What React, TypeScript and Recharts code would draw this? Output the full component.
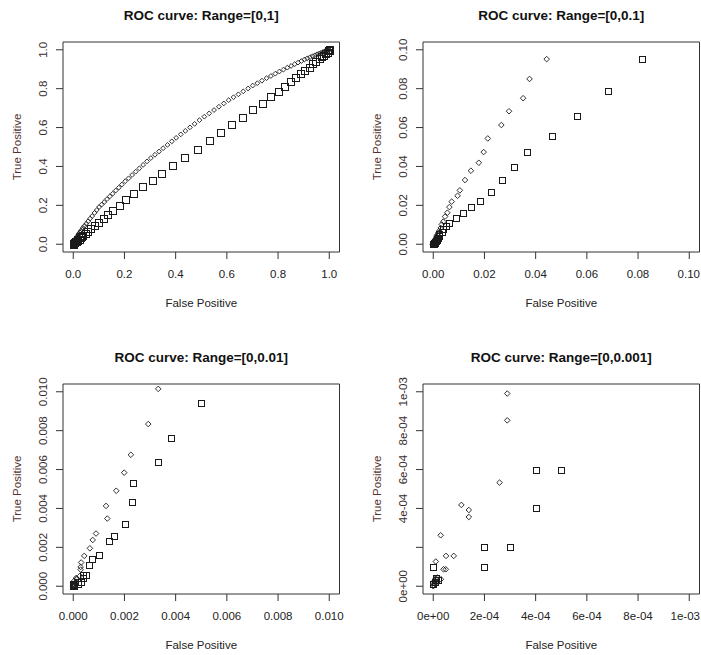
import React from 'react';
import { ScatterChart, Scatter, XAxis, YAxis, ReferenceArea } from 'recharts';

// ---- ROC points (false positive rate, true positive rate) ----
// Model A, drawn with hollow squares
const squareFP = [
  0, 0.000005, 0.00001, 0.00001, 0.00002, 0, 0.0002, 0.0002, 0.0003, 0.0004, 0.0004, 0.0005,
  0.00061, 0.00073, 0.001, 0.00141, 0.00161, 0.00202, 0.0023, 0.00232, 0.00331, 0.00382, 0.005,
  0.0061, 0.0089, 0.0117, 0.0147, 0.0181, 0.0225, 0.0268, 0.0314, 0.0368, 0.0463, 0.0561, 0.0684, 0.0816,
  0.098, 0.117, 0.133, 0.155, 0.179, 0.205, 0.237, 0.27, 0.309, 0.345, 0.388, 0.434, 0.484, 0.531, 0.574,
  0.62, 0.661, 0.701, 0.738, 0.772, 0.8, 0.826, 0.849, 0.869, 0.888, 0.905, 0.921, 0.935, 0.948, 0.96,
  0.97, 0.979, 0.986, 0.992, 0.996, 0.999, 1,
];
const squareTP = [
  0.00001, 0.00002, 0.00003, 0.00004, 0.00003, 0.0001, 0.0001, 0.0002, 0.0002, 0.0004, 0.0006, 0.0006,
  0.00111, 0.00139, 0.00161, 0.00231, 0.00259, 0.0032, 0.00432, 0.00529, 0.0064, 0.00762, 0.00943,
  0.0111, 0.0137, 0.0159, 0.019, 0.0222, 0.0268, 0.0328, 0.0398, 0.0473, 0.0556, 0.0658, 0.0788, 0.0952,
  0.113, 0.134, 0.152, 0.173, 0.201, 0.23, 0.261, 0.295, 0.33, 0.366, 0.405, 0.446, 0.486, 0.532, 0.574,
  0.617, 0.653, 0.692, 0.726, 0.76, 0.788, 0.813, 0.838, 0.86, 0.878, 0.895, 0.911, 0.927, 0.941, 0.953,
  0.963, 0.973, 0.981, 0.988, 0.994, 0.998, 1,
];

// Model B, drawn with hollow diamonds
const diamondFP = [
  0, 0.000002, 0.000004, 0.000006, 0.000008, 0.00001, 0.000012, 0.000014, 0.000016, 0.00003,
  0.00004, 0.000049, 0.00001, 0.000029,
  0.00005, 0.00008, 0.00011, 0.000139, 0.000139, 0.000259, 0.000289, 0.000289,
  0.00031, 0.00043, 0.00065, 0.00076, 0.00089, 0.00133, 0.00128, 0.00168, 0.00199, 0.00225, 0.00293, 0.00332,
  0.0039, 0.0046, 0.0055, 0.0063, 0.0072, 0.0095, 0.0104, 0.0124, 0.0147, 0.0178, 0.0197, 0.0213,
  0.0266, 0.0296, 0.0351, 0.0376, 0.0443,
  0.051, 0.058, 0.066, 0.074, 0.083, 0.092, 0.101, 0.111, 0.121, 0.132, 0.143, 0.154, 0.166, 0.178,
  0.19, 0.203, 0.216, 0.23, 0.244, 0.258, 0.273, 0.288, 0.303, 0.319, 0.335, 0.351, 0.368, 0.385,
  0.402, 0.42, 0.438, 0.456, 0.474, 0.493, 0.512, 0.531, 0.55, 0.569, 0.588, 0.607, 0.626, 0.645,
  0.664, 0.683, 0.701, 0.719, 0.737, 0.755, 0.772, 0.789, 0.805, 0.821, 0.836, 0.851, 0.865, 0.878,
  0.891, 0.903, 0.914, 0.925, 0.935, 0.944, 0.953, 0.961, 0.968, 0.975, 0.981, 0.986, 0.991, 0.995,
  0.998, 1,
];
const diamondTP = [
  0, 0.000005, 0.000016, 0.000028, 0.00001, 0.00004, 0.000022, 0.000032, 0.000045, 0.000036,
  0.000087, 0.000087, 0.000127, 0.000262,
  0.000156, 0.000156, 0.000418, 0.000392, 0.000356, 0.000533, 0.000853, 0.000991,
  0.00122, 0.00156, 0.00195, 0.00238, 0.00271, 0.00348, 0.00413, 0.00491, 0.00584, 0.00676, 0.00834, 0.01015,
  0.0116, 0.0142, 0.0162, 0.0191, 0.0219, 0.0249, 0.0277, 0.033, 0.0378, 0.0419, 0.0474, 0.0544,
  0.0613, 0.0684, 0.0751, 0.085, 0.0952,
  0.106, 0.118, 0.132, 0.145, 0.161, 0.176, 0.191, 0.204, 0.217, 0.232, 0.246, 0.26, 0.276, 0.291,
  0.307, 0.324, 0.339, 0.356, 0.373, 0.39, 0.408, 0.426, 0.443, 0.46, 0.477, 0.494, 0.511, 0.529,
  0.547, 0.565, 0.583, 0.601, 0.619, 0.638, 0.656, 0.673, 0.69, 0.707, 0.724, 0.741, 0.756, 0.771,
  0.786, 0.801, 0.816, 0.828, 0.841, 0.854, 0.865, 0.877, 0.888, 0.898, 0.908, 0.917, 0.926, 0.934,
  0.942, 0.95, 0.956, 0.962, 0.967, 0.972, 0.977, 0.981, 0.984, 0.988, 0.991, 0.993, 0.996, 0.998,
  0.999, 1,
];

// ---- panels ----
const panelTitles = [
  'ROC curve: Range=[0,1]',
  'ROC curve: Range=[0,0.1]',
  'ROC curve: Range=[0,0.01]',
  'ROC curve: Range=[0,0.001]',
];
const panelRanges = [1, 0.1, 0.01, 0.001];

const ticks1 = [0, 0.2, 0.4, 0.6, 0.8, 1];
const labels1 = ['0.0', '0.2', '0.4', '0.6', '0.8', '1.0'];
const ticks2 = [0, 0.02, 0.04, 0.06, 0.08, 0.1];
const labels2 = ['0.00', '0.02', '0.04', '0.06', '0.08', '0.10'];
const ticks3 = [0, 0.002, 0.004, 0.006, 0.008, 0.01];
const labels3 = ['0.000', '0.002', '0.004', '0.006', '0.008', '0.010'];
const ticks4 = [0, 0.0002, 0.0004, 0.0006, 0.0008, 0.001];
const labels4x = ['0e+00', '2e-04', '4e-04', '6e-04', '8e-04', '1e-03'];
const labels4y = ['0e+00', '', '4e-04', '6e-04', '8e-04', '1e-03'];

const xAxisTitle = 'False Positive';
const yAxisTitle = 'True Positive';

// ---- layout ----
const PAGE_W = 701;
const W = 360;
const H = 342;
const PLOT_LEFT = 63;
const PLOT_TOP = 42;
const PLOT_W = 276.5;
const PLOT_H = 210;
const X_AXIS_H = 50;
const FONT = '"Liberation Sans", Arial, Helvetica, sans-serif';
const INK = '#1a1a1a';

const squareShape = (side: number) => (props: any) => {
  const { cx, cy } = props;
  if (cx == null || cy == null) return <g />;
  const x = Math.round(cx - side / 2) + 0.5;
  const y = Math.round(cy - side / 2) + 0.5;
  return <rect x={x} y={y} width={side} height={side} fill="none" stroke={INK} strokeWidth={1} />;
};

const diamondShape = (half: number) => (props: any) => {
  const { cx, cy } = props;
  if (cx == null || cy == null) return <g />;
  const d = `M${cx},${cy - half}L${cx + half},${cy}L${cx},${cy + half}L${cx - half},${cy}Z`;
  return <path d={d} fill="none" stroke={INK} strokeWidth={0.9} />;
};

// x tick labels; a label whose right end would run past the page edge is kept inside it
const makeXTick = (ticks: number[], labels: string[], pageLeft: number) => (props: any) => {
  const { x, y, payload } = props;
  const i = ticks.findIndex((t) => Math.abs(t - payload.value) < 1e-12);
  const text = i >= 0 ? labels[i] : '';
  const halfWidth = text.length * 3.2;
  const overRight = pageLeft + x + halfWidth > PAGE_W - 1;
  return (
    <text
      x={overRight ? PAGE_W - 1 - pageLeft : x}
      y={y}
      dy="0.35em"
      textAnchor={overRight ? 'end' : 'middle'}
      fontFamily={FONT}
      fontSize={11.5}
      fill="#222"
    >
      {text}
    </text>
  );
};

const makeYTick = (ticks: number[], labels: string[]) => (props: any) => {
  const { x, y, payload } = props;
  const i = ticks.findIndex((t) => Math.abs(t - payload.value) < 1e-12);
  return (
    <text
      x={x}
      y={y}
      dy="0.35em"
      textAnchor="middle"
      transform={`rotate(-90, ${x}, ${y})`}
      fontFamily={FONT}
      fontSize={11.5}
      fill="#3a2c2c"
    >
      {i >= 0 ? labels[i] : ''}
    </text>
  );
};

type PanelProps = {
  left: number;
  top: number;
  title: string;
  range: number;
  xTicks: number[];
  xLabels: string[];
  yTicks: number[];
  yLabels: string[];
  squareSide: number;
  diamondHalf: number;
};

function RocPanel(p: PanelProps) {
  const lo = -0.04 * p.range;
  const hi = 1.04 * p.range;
  const inside = (x: number, y: number) => x >= lo && x <= hi && y >= lo && y <= hi;
  const squares = squareFP
    .map((fp, i) => ({ fp, tp: squareTP[i] }))
    .filter((d) => inside(d.fp, d.tp));
  const diamonds = diamondFP
    .map((fp, i) => ({ fp, tp: diamondTP[i] }))
    .filter((d) => inside(d.fp, d.tp));
  const cx = PLOT_LEFT + PLOT_W / 2;
  const cy = PLOT_TOP + PLOT_H / 2;

  return (
    <div style={{ position: 'absolute', left: p.left, top: p.top, width: W, height: H }}>
      <ScatterChart
        width={W}
        height={H}
        margin={{ top: PLOT_TOP, right: W - PLOT_LEFT - PLOT_W, bottom: H - PLOT_TOP - PLOT_H - X_AXIS_H, left: 0 }}
      >
        <XAxis
          type="number"
          dataKey="fp"
          domain={[lo, hi]}
          allowDataOverflow
          ticks={p.xTicks}
          interval={0}
          axisLine={false}
          tickLine={{ stroke: '#333', strokeWidth: 1 }}
          tickSize={7}
          tickMargin={15}
          height={X_AXIS_H}
          tick={makeXTick(p.xTicks, p.xLabels, p.left)}
        />
        <YAxis
          type="number"
          dataKey="tp"
          domain={[lo, hi]}
          allowDataOverflow
          ticks={p.yTicks}
          interval={0}
          axisLine={false}
          tickLine={{ stroke: '#333', strokeWidth: 1 }}
          tickSize={7}
          tickMargin={13}
          width={PLOT_LEFT}
          tick={makeYTick(p.yTicks, p.yLabels)}
        />
        <ReferenceArea
          x1={lo}
          x2={hi}
          y1={lo}
          y2={hi}
          ifOverflow="visible"
          fill="none"
          fillOpacity={0}
          stroke="#333"
          strokeWidth={1}
        />
        <Scatter data={diamonds} shape={diamondShape(p.diamondHalf)} isAnimationActive={false} />
        <Scatter data={squares} shape={squareShape(p.squareSide)} isAnimationActive={false} />
      </ScatterChart>
      <svg
        width={W}
        height={H}
        style={{ position: 'absolute', left: 0, top: 0, pointerEvents: 'none', overflow: 'visible' }}
      >
        <text x={cx} y={20} textAnchor="middle" fontFamily={FONT} fontSize={13.5} fontWeight="bold" fill="#111">
          {p.title}
        </text>
        <text
          x={cx}
          y={PLOT_TOP + PLOT_H + 51}
          dy="0.35em"
          textAnchor="middle"
          fontFamily={FONT}
          fontSize={11.5}
          fill="#222"
        >
          {xAxisTitle}
        </text>
        <text
          x={17}
          y={cy}
          dy="0.35em"
          textAnchor="middle"
          transform={`rotate(-90, 17, ${cy})`}
          fontFamily={FONT}
          fontSize={11.5}
          fill="#553333"
        >
          {yAxisTitle}
        </text>
      </svg>
    </div>
  );
}

export default function App() {
  const positions = [
    { left: 0, top: 0 },
    { left: 360, top: 0 },
    { left: 0, top: 342 },
    { left: 360, top: 342 },
  ];
  const xTicks = [ticks1, ticks2, ticks3, ticks4];
  const xLabels = [labels1, labels2, labels3, labels4x];
  const yLabels = [labels1, labels2, labels3, labels4y];
  return (
    <div
      style={{
        position: 'absolute',
        left: 0,
        top: 0,
        width: PAGE_W,
        height: 655,
        overflow: 'hidden',
        background: '#fff',
      }}
    >
      {panelTitles.map((title, i) => (
        <RocPanel
          key={title}
          left={positions[i].left}
          top={positions[i].top}
          title={title}
          range={panelRanges[i]}
          xTicks={xTicks[i]}
          xLabels={xLabels[i]}
          yTicks={xTicks[i]}
          yLabels={yLabels[i]}
          squareSide={i === 0 ? 7 : 6}
          diamondHalf={i === 0 ? 2.4 : 2.8}
        />
      ))}
    </div>
  );
}
